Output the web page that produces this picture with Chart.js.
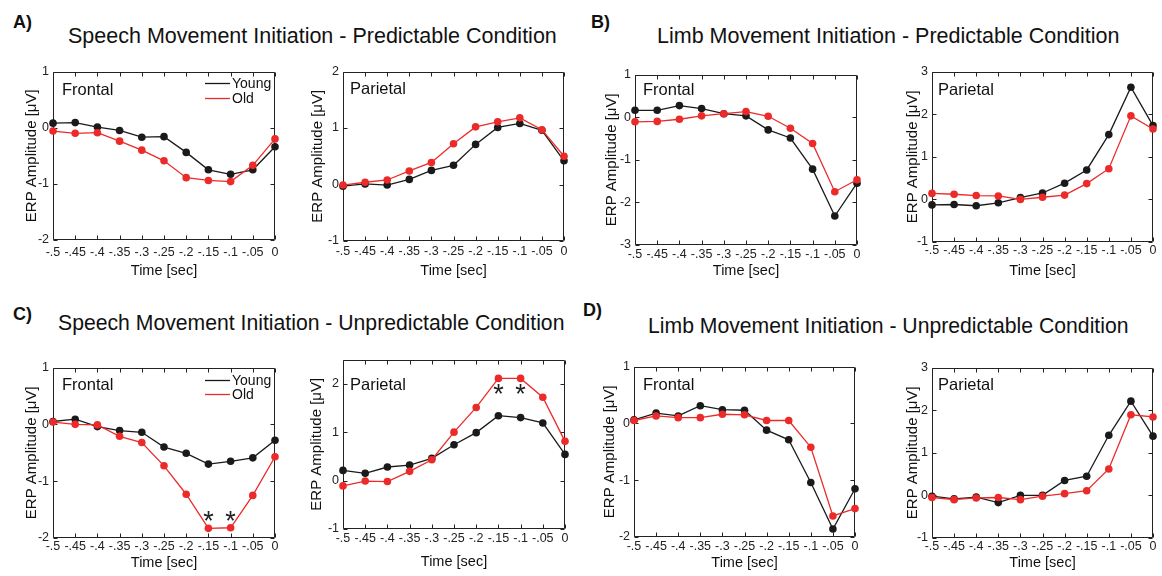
<!DOCTYPE html>
<html>
<head>
<meta charset="utf-8">
<script src="https://cdn.jsdelivr.net/npm/chart.js@4.4.1/dist/chart.umd.min.js"></script>
<style>
  html, body { margin: 0; padding: 0; background: #fff; }
  #fig { position: relative; width: 1162px; height: 576px; overflow: hidden;
         font-family: "Liberation Sans", Arial, sans-serif; color: #111; }
  .lbl { position: absolute; font-weight: bold; font-size: 18px; line-height: 1; }
  .ttl { position: absolute; font-size: 21.5px; line-height: 1; white-space: nowrap; }
  canvas { position: absolute; }
</style>
</head>
<body>
<div id="fig">
  <div class="lbl" style="left:13px;top:13px">A)</div>
  <div class="ttl" style="left:68px;top:26px">Speech Movement Initiation - Predictable Condition</div>
  <div class="lbl" style="left:591px;top:13px">B)</div>
  <div class="ttl" style="left:657px;top:26px">Limb Movement Initiation - Predictable Condition</div>
  <div class="lbl" style="left:13px;top:305px">C)</div>
  <div class="ttl" style="left:58px;top:312px;font-size:21.2px">Speech Movement Initiation - Unpredictable Condition</div>
  <div class="lbl" style="left:583px;top:301px">D)</div>
  <div class="ttl" style="left:648px;top:315px;font-size:21.2px">Limb Movement Initiation - Unpredictable Condition</div>
</div>
<script>
// 시간축 (공통)
const timeSec = [-0.5, -0.45, -0.4, -0.35, -0.3, -0.25, -0.2, -0.15, -0.1, -0.05, 0];
const timeTickLabels = ['-.5', '-.45', '-.4', '-.35', '-.3', '-.25', '-.2', '-.15', '-.1', '-.05', '0'];

// A) Speech - Predictable
const speechPredFrontalYoung = [0.08, 0.09, 0.01, -0.05, -0.17, -0.16, -0.44, -0.75, -0.83, -0.75, -0.34];
const speechPredFrontalOld   = [-0.06, -0.10, -0.09, -0.24, -0.40, -0.59, -0.89, -0.94, -0.96, -0.67, -0.20];
const speechPredParietalYoung = [-0.03, 0.01, -0.01, 0.09, 0.25, 0.34, 0.71, 1.01, 1.08, 0.96, 0.42];
const speechPredParietalOld   = [-0.01, 0.04, 0.08, 0.24, 0.39, 0.72, 1.02, 1.11, 1.18, 0.97, 0.50];

// B) Limb - Predictable
const limbPredFrontalYoung = [0.16, 0.16, 0.27, 0.20, 0.08, 0.03, -0.30, -0.49, -1.22, -2.32, -1.55];
const limbPredFrontalOld   = [-0.11, -0.10, -0.05, 0.03, 0.08, 0.13, 0.02, -0.26, -0.62, -1.75, -1.47];
const limbPredParietalYoung = [-0.13, -0.12, -0.15, -0.08, 0.04, 0.15, 0.38, 0.69, 1.52, 2.63, 1.73];
const limbPredParietalOld   = [0.14, 0.12, 0.09, 0.08, 0.00, 0.05, 0.10, 0.37, 0.72, 1.96, 1.65];

// C) Speech - Unpredictable
const speechUnpFrontalYoung = [0.05, 0.09, -0.04, -0.11, -0.14, -0.40, -0.51, -0.70, -0.65, -0.59, -0.28];
const speechUnpFrontalOld   = [0.04, 0.00, -0.01, -0.21, -0.32, -0.73, -1.23, -1.83, -1.82, -1.25, -0.57];
const speechUnpParietalYoung = [0.21, 0.15, 0.28, 0.32, 0.46, 0.74, 0.99, 1.34, 1.30, 1.19, 0.54];
const speechUnpParietalOld   = [-0.11, -0.01, -0.02, 0.19, 0.43, 1.00, 1.51, 2.11, 2.11, 1.72, 0.81];

// D) Limb - Unpredictable
const limbUnpFrontalYoung = [0.06, 0.18, 0.13, 0.31, 0.24, 0.23, -0.12, -0.29, -1.04, -1.86, -1.15];
const limbUnpFrontalOld   = [0.05, 0.13, 0.10, 0.10, 0.16, 0.15, 0.05, 0.05, -0.42, -1.63, -1.50];
const limbUnpParietalYoung = [-0.02, -0.08, -0.04, -0.17, 0.00, 0.00, 0.35, 0.45, 1.41, 2.21, 1.39];
const limbUnpParietalOld   = [-0.05, -0.10, -0.06, -0.05, -0.10, -0.02, 0.04, 0.11, 0.62, 1.89, 1.84];

// 유의미한 차이 (*) 위치
const sigTimes = [-0.15, -0.1];
const sigFrontalLevel = [-1.66, -1.66];
const sigParietalLevel = [1.83, 1.83];

// y축 눈금
const yTicksM2to1 = [-2, -1, 0, 1];
const yTicksM1to2 = [-1, 0, 1, 2];
const yTicksM3to1 = [-3, -2, -1, 0, 1];
const yTicksM1to3 = [-1, 0, 1, 2, 3];

const FONT = '"Liberation Sans", Arial, sans-serif';
const BLACK = '#1a1a1a';
const RED = '#ec2a2a';
const TICK = 4;

Chart.defaults.font.family = FONT;
Chart.defaults.color = '#222';

// MATLAB 스타일 박스 + 안쪽 눈금, 라벨/범례/별표
const matlabBox = {
  id: 'matlabBox',
  beforeDatasetsDraw(chart) {
    const { ctx, chartArea: a, scales: { x, y } } = chart;
    const L = Math.round(a.left) + 0.5, R = Math.round(a.right) - 0.5;
    const T = Math.round(a.top) + 0.5, B = Math.round(a.bottom) - 0.5;
    ctx.save();
    ctx.strokeStyle = '#222';
    ctx.lineWidth = 1;
    ctx.beginPath();
    x.ticks.forEach(t => {
      const px = Math.round(x.getPixelForValue(t.value)) + 0.5;
      ctx.moveTo(px, B); ctx.lineTo(px, B - TICK);
      ctx.moveTo(px, T); ctx.lineTo(px, T + TICK);
    });
    y.ticks.forEach(t => {
      const py = Math.round(y.getPixelForValue(t.value)) + 0.5;
      ctx.moveTo(L, py); ctx.lineTo(L + TICK, py);
      ctx.moveTo(R, py); ctx.lineTo(R - TICK, py);
    });
    ctx.rect(L, T, R - L, B - T);
    ctx.stroke();
    ctx.restore();
  },
  afterDatasetsDraw(chart, args, o) {
    const { ctx, chartArea: a, scales: { x, y } } = chart;
    ctx.save();
    ctx.fillStyle = '#111';
    ctx.textBaseline = 'alphabetic';
    ctx.font = '16.5px ' + FONT;
    ctx.fillText(o.name, a.left + o.nameAt[0], a.top + o.nameAt[1]);

    if (o.legend) {
      const items = [...chart.data.datasets].sort((p, q) => p.legendIdx - q.legendIdx);
      ctx.font = '14px ' + FONT;
      ctx.textBaseline = 'middle';
      items.forEach((ds, i) => {
        const ly = a.top + o.legendRows[i];
        ctx.strokeStyle = ds.borderColor;
        ctx.lineWidth = 1.3;
        ctx.beginPath();
        ctx.moveTo(a.left + 152, ly);
        ctx.lineTo(a.left + 177, ly);
        ctx.stroke();
        ctx.fillStyle = '#111';
        ctx.fillText(ds.label, a.left + 179, ly + 0.5);
      });
    }

    if (o.stars) {
      ctx.font = '27px ' + FONT;
      ctx.textAlign = 'center';
      ctx.textBaseline = 'alphabetic';
      ctx.fillStyle = '#222';
      o.stars.times.forEach((t, i) => {
        ctx.fillText('*', x.getPixelForValue(t), y.getPixelForValue(o.stars.levels[i]) + 11);
      });
    }
    ctx.restore();
  }
};

// 패널 배치: plot 영역 [left, top, right, bottom]
const panels = [
  { plot: [53, 68, 275, 240], yMin: -2, yMax: 1, yTicks: yTicksM2to1, young: speechPredFrontalYoung, old: speechPredFrontalOld,
    name: 'Frontal', nameAt: [9, 23], legend: true, legendRows: [12, 27], yTitleGap: 21, xTitleGap: 32, xPad: 5 },
  { plot: [343, 68, 564, 241], yMin: -1, yMax: 2, yTicks: yTicksM1to2, young: speechPredParietalYoung, old: speechPredParietalOld,
    name: 'Parietal', nameAt: [7, 22], yTitleGap: 25, xTitleGap: 31, xPad: 3 },
  { plot: [635, 71, 857, 245], yMin: -3, yMax: 1, yTicks: yTicksM3to1, young: limbPredFrontalYoung, old: limbPredFrontalOld,
    name: 'Frontal', nameAt: [8, 20], yTitleGap: 23, xTitleGap: 27, xPad: 2 },
  { plot: [932, 68, 1153, 242], yMin: -1, yMax: 3, yTicks: yTicksM1to3, young: limbPredParietalYoung, old: limbPredParietalOld,
    name: 'Parietal', nameAt: [6, 23], yTitleGap: 19, xTitleGap: 30, xPad: 1 },
  { plot: [53, 364, 275, 538], yMin: -2, yMax: 1, yTicks: yTicksM2to1, young: speechUnpFrontalYoung, old: speechUnpFrontalOld,
    name: 'Frontal', nameAt: [9, 22], legend: true, legendRows: [13, 27], yTitleGap: 21, xTitleGap: 26, xPad: 1,
    stars: { times: sigTimes, levels: sigFrontalLevel } },
  { plot: [343, 356, 565, 529], yMin: -1, yMax: 2.5, yTicks: yTicksM1to2, young: speechUnpParietalYoung, old: speechUnpParietalOld,
    name: 'Parietal', nameAt: [7, 30], yTitleGap: 26, xTitleGap: 34, xPad: 2,
    stars: { times: sigTimes, levels: sigParietalLevel } },
  { plot: [634, 363, 855, 537], yMin: -2, yMax: 1, yTicks: yTicksM2to1, young: limbUnpFrontalYoung, old: limbUnpFrontalOld,
    name: 'Frontal', nameAt: [9, 23], yTitleGap: 24, xTitleGap: 27, xPad: 2 },
  { plot: [932, 364, 1153, 538], yMin: -1, yMax: 3, yTicks: yTicksM1to3, young: limbUnpParietalYoung, old: limbUnpParietalOld,
    name: 'Parietal', nameAt: [6, 22], yTitleGap: 19, xTitleGap: 26, xPad: 1 }
];

const PAD_TOP = 8, PAD_RIGHT = 12;

function series(label, values, color, order, legendIdx) {
  return {
    label: label,
    data: timeSec.map((t, i) => ({ x: t, y: values[i] })),
    showLine: true,
    borderColor: color,
    backgroundColor: color,
    borderWidth: 1.3,
    pointRadius: 3.8,
    pointBorderWidth: 0,
    pointBackgroundColor: color,
    tension: 0,
    clip: false,
    order: order,
    legendIdx: legendIdx
  };
}

const fig = document.getElementById('fig');

panels.forEach(p => {
  const [l, t, r, b] = p.plot;
  const W = p.yTitleGap + 11;
  const H = p.xTitleGap + 10;
  const canvas = document.createElement('canvas');
  const cw = W + (r - l) + PAD_RIGHT;
  const ch = PAD_TOP + (b - t) + H;
  canvas.width = cw;
  canvas.height = ch;
  canvas.style.left = (l - W) + 'px';
  canvas.style.top = (t - PAD_TOP) + 'px';
  canvas.style.width = cw + 'px';
  canvas.style.height = ch + 'px';
  fig.appendChild(canvas);

  new Chart(canvas.getContext('2d'), {
    type: 'scatter',
    data: {
      datasets: [
        series('Young', p.young, BLACK, 1, 0),
        series('Old', p.old, RED, 0, 1)
      ]
    },
    options: {
      responsive: false,
      animation: false,
      layout: { padding: { top: PAD_TOP, right: PAD_RIGHT, left: 0, bottom: 0 } },
      scales: {
        x: {
          type: 'linear',
          min: -0.5,
          max: 0,
          afterBuildTicks: s => { s.ticks = timeSec.map(v => ({ value: v })); },
          afterFit: s => { s.height = H; },
          grid: { display: false, drawTicks: false },
          border: { display: false },
          ticks: {
            autoSkip: false, maxRotation: 0, minRotation: 0,
            padding: p.xPad,
            font: { size: 12.5 },
            color: '#222',
            callback: (v, i) => timeTickLabels[i]
          },
          title: { display: true, text: 'Time [sec]', color: '#111', font: { size: 14.5 }, padding: { top: 0, bottom: 2 } }
        },
        y: {
          type: 'linear',
          min: p.yMin,
          max: p.yMax,
          afterBuildTicks: s => { s.ticks = p.yTicks.map(v => ({ value: v })); },
          afterFit: s => { s.width = W; },
          grid: { display: false, drawTicks: false },
          border: { display: false },
          ticks: { padding: 4, font: { size: 12.5 }, color: '#222', callback: v => String(v) },
          title: { display: true, text: 'ERP Amplitude [μV]', color: '#111', font: { size: 15 }, padding: { top: 2, bottom: 0 } }
        }
      },
      plugins: {
        legend: { display: false },
        tooltip: { enabled: false },
        matlabBox: {
          name: p.name,
          nameAt: p.nameAt,
          legend: !!p.legend,
          legendRows: p.legendRows,
          stars: p.stars
        }
      }
    },
    plugins: [matlabBox]
  });
});
</script>
</body>
</html>
